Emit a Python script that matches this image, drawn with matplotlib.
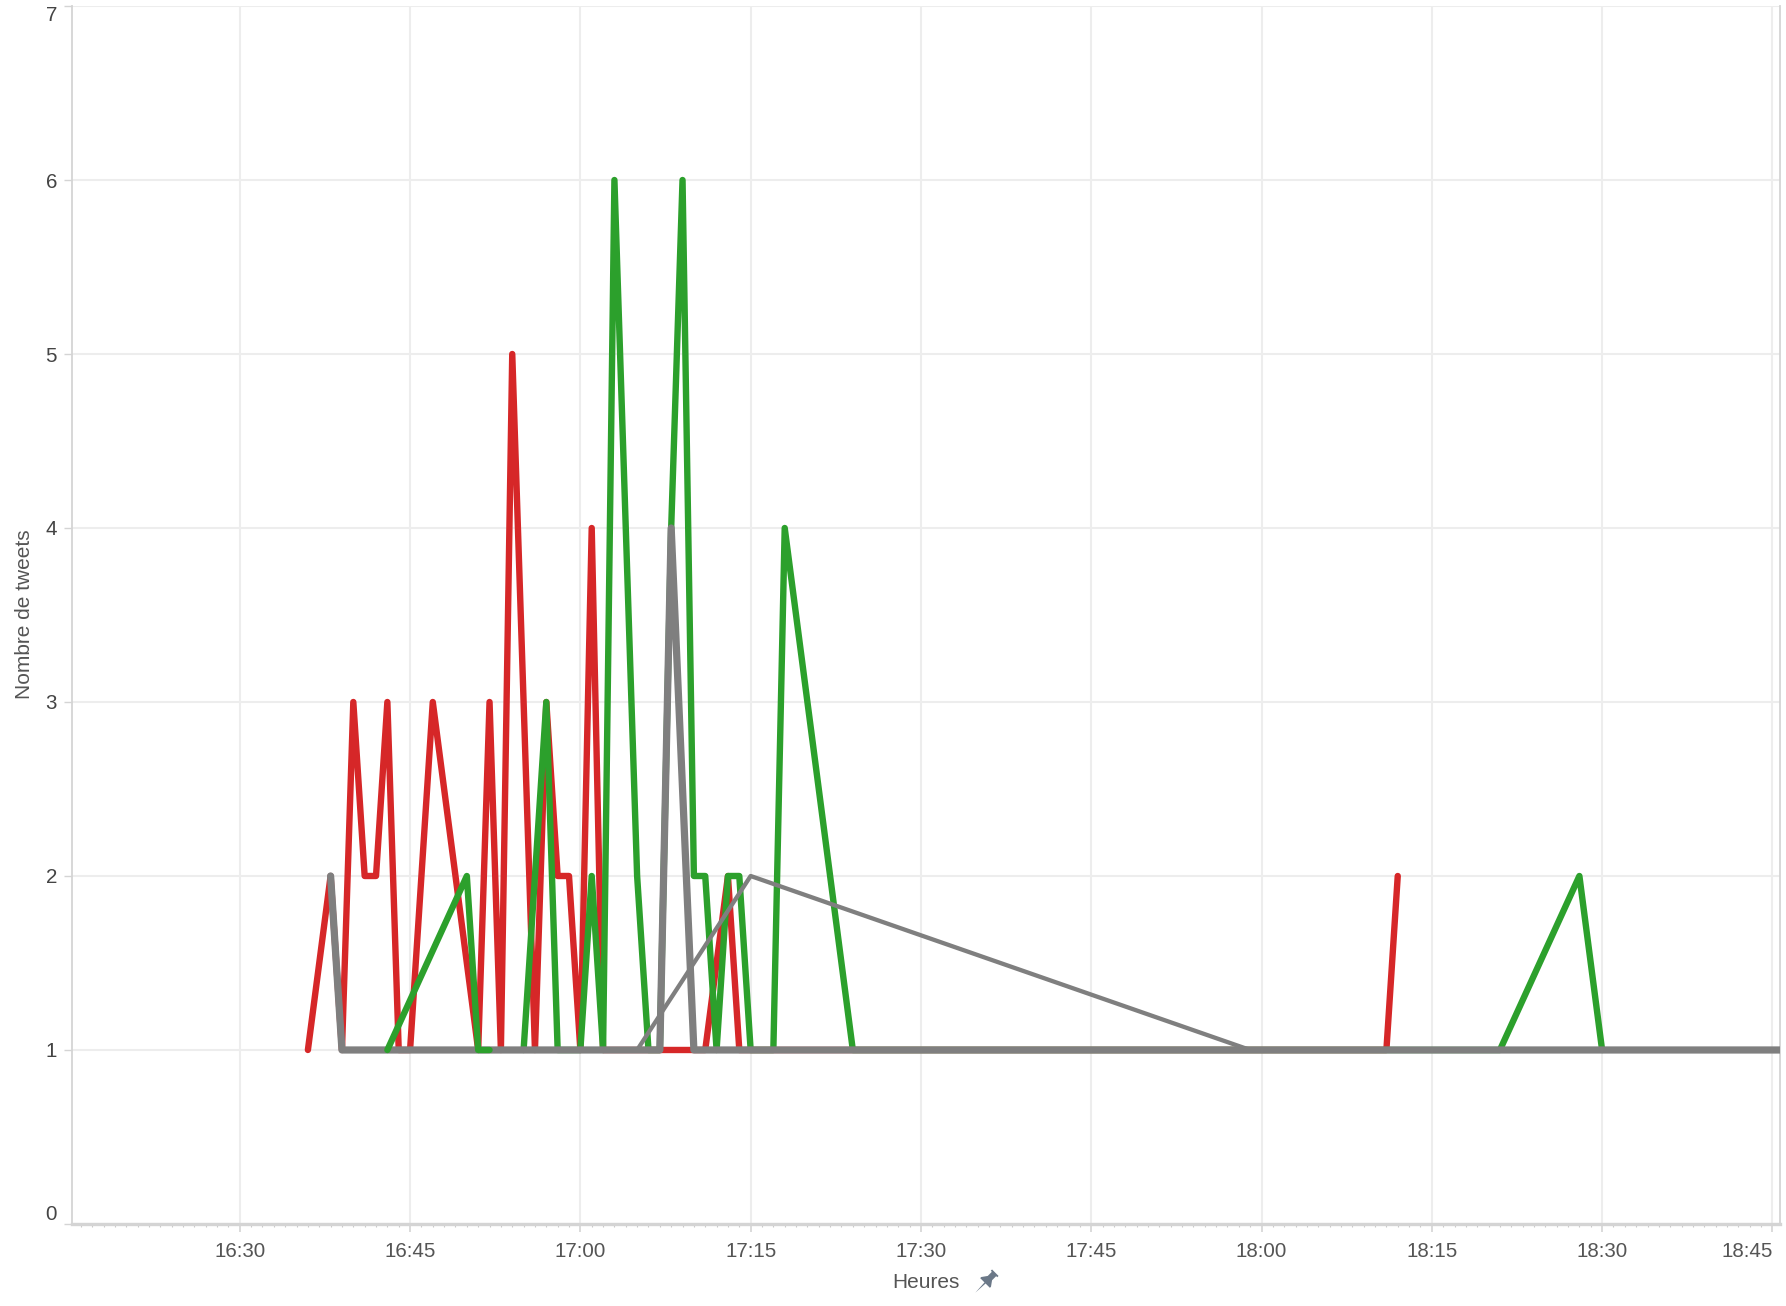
import matplotlib

matplotlib.use("Agg")
import matplotlib.dates as mdates
import matplotlib.pyplot as plt
import pandas as pd
from matplotlib.markers import MarkerStyle
from matplotlib.path import Path
from matplotlib.transforms import Affine2D

DAY = "2016-05-10 "

# negative tweets (red)
red_times = ["16:36", "16:38", "16:39", "16:40", "16:41", "16:42", "16:43", "16:44",
             "16:45", "16:47", "16:51", "16:52", "16:53", "16:54", "16:56", "16:57",
             "16:58", "16:59", "17:00", "17:01", "17:02", "17:11", "17:13", "17:14",
             "18:11", "18:12"]
red_counts = [1, 2, 1, 3, 2, 2, 3, 1, 1, 3, 1, 3, 1, 5, 1, 3, 2, 2, 1, 4, 1, 1, 2, 1, 1, 2]

# positive tweets (green), two tracks
green_top_times = ["16:43", "16:50", "16:51", "16:52"]
green_top_counts = [1, 2, 1, 1]

green_times = ["16:55", "16:57", "16:58", "17:00", "17:01", "17:02", "17:03", "17:05",
               "17:06", "17:07", "17:08", "17:09", "17:10", "17:11", "17:12", "17:13",
               "17:14", "17:15", "17:17", "17:18", "17:24", "18:21", "18:28", "18:30"]
green_counts = [1, 3, 1, 1, 2, 1, 6, 2, 1, 1, 4, 6, 2, 2, 1, 2, 2, 1, 1, 4, 1, 1, 2, 1]

# neutral tweets (gray)
gray_times = ["16:38", "16:39", "17:07", "17:08", "17:10", "18:46"]
gray_counts = [2, 1, 1, 4, 1, 1]

gray_thin_times = ["17:05", "17:15", "17:59"]
gray_thin_counts = [1, 2, 1]

y_ticks = [0, 1, 2, 3, 4, 5, 6, 7]

RED = "#d62728"
GREEN = "#2ca02c"
GRAY = "#7f7f7f"
TXT = "#555555"
GRID = "#ededed"
AXIS = "#d4d4d4"


def to_dt(times):
    return pd.to_datetime([DAY + t for t in times])


plt.rcParams["font.family"] = ["Liberation Sans", "DejaVu Sans"]

fig = plt.figure(figsize=(17.86, 13.06), dpi=100)
ax = fig.add_axes([0.0405, 0.0628, 0.9559, 0.9326])

lw = 4.6
common = dict(solid_joinstyle="round", solid_capstyle="round")
ax.plot(to_dt(red_times), red_counts, color=RED, lw=lw, zorder=2, **common)
ax.plot(to_dt(green_times), green_counts, color=GREEN, lw=lw, zorder=3, **common)
# gray drawn a touch wider so the red/green runs under it leave no fringe
ax.plot(to_dt(gray_times), gray_counts, color=GRAY, lw=5.2, zorder=4, **common)
ax.plot(to_dt(gray_thin_times), gray_thin_counts, color=GRAY, lw=3.1, zorder=4, **common)
ax.plot(to_dt(green_top_times), green_top_counts, color=GREEN, lw=lw, zorder=5, **common)

ax.set_xlim(pd.Timestamp(DAY + "16:15:15"), pd.Timestamp(DAY + "18:45:38"))
ax.set_ylim(0, 7)

ax.xaxis.set_major_locator(mdates.MinuteLocator(byminute=[0, 15, 30, 45]))
ax.xaxis.set_major_formatter(mdates.DateFormatter("%H:%M"))
ax.xaxis.set_minor_locator(mdates.MinuteLocator())
ax.set_yticks(y_ticks)

ax.grid(True, which="major", color=GRID, lw=1.5, zorder=0)
ax.set_axisbelow(True)

ax.spines["top"].set_visible(False)
ax.spines["left"].set_color(AXIS)
ax.spines["left"].set_linewidth(1.3)
ax.spines["right"].set_color(AXIS)
ax.spines["right"].set_linewidth(1.3)
ax.spines["bottom"].set_color(AXIS)
ax.spines["bottom"].set_linewidth(2.4)

ax.tick_params(axis="x", which="major", length=6, width=1.2, color=AXIS,
               labelsize=14.8, labelcolor=TXT, pad=7)
ax.tick_params(axis="x", which="minor", length=2.2, width=0.8, color="#c8c8c8")
ax.tick_params(axis="y", which="major", length=6, width=1.0, color=AXIS,
               labelsize=14.8, labelcolor="#444444", pad=5)

yt = ax.yaxis.get_major_ticks()
yt[0].label1.set_va("bottom")
yt[-1].label1.set_va("top")
fig.canvas.draw()
for t in ax.xaxis.get_major_ticks():
    if t.label1.get_text() == "18:45":
        t.label1.set_ha("right")

fig.text(25 / 1786, 1 - 614 / 1306, "Nombre de tweets", rotation=90,
         ha="center", va="center", fontsize=15, color=TXT)
fig.text(926 / 1786, 1 - 1283 / 1306, "Heures", ha="center", va="center",
         fontsize=15, color=TXT)

# pin icon next to the axis title
pin = Path([(-0.3, 1.0), (0.3, 1.0), (0.3, 0.88), (0.2, 0.88), (0.2, 0.5),
            (0.45, 0.15), (0.45, 0.05), (0.05, 0.05), (0.0, -0.85), (-0.05, 0.05),
            (-0.45, 0.05), (-0.45, 0.15), (-0.2, 0.5), (-0.2, 0.88), (-0.3, 0.88),
            (-0.3, 1.0)], closed=True)
marker = MarkerStyle(pin, transform=Affine2D().rotate_deg(-45))
ax.plot([984 / 1786], [1 - 1283 / 1306], marker=marker, markersize=22, color="#6b7888",
        markeredgewidth=0, transform=fig.transFigure, clip_on=False)

fig.savefig("out.png", dpi=100)
